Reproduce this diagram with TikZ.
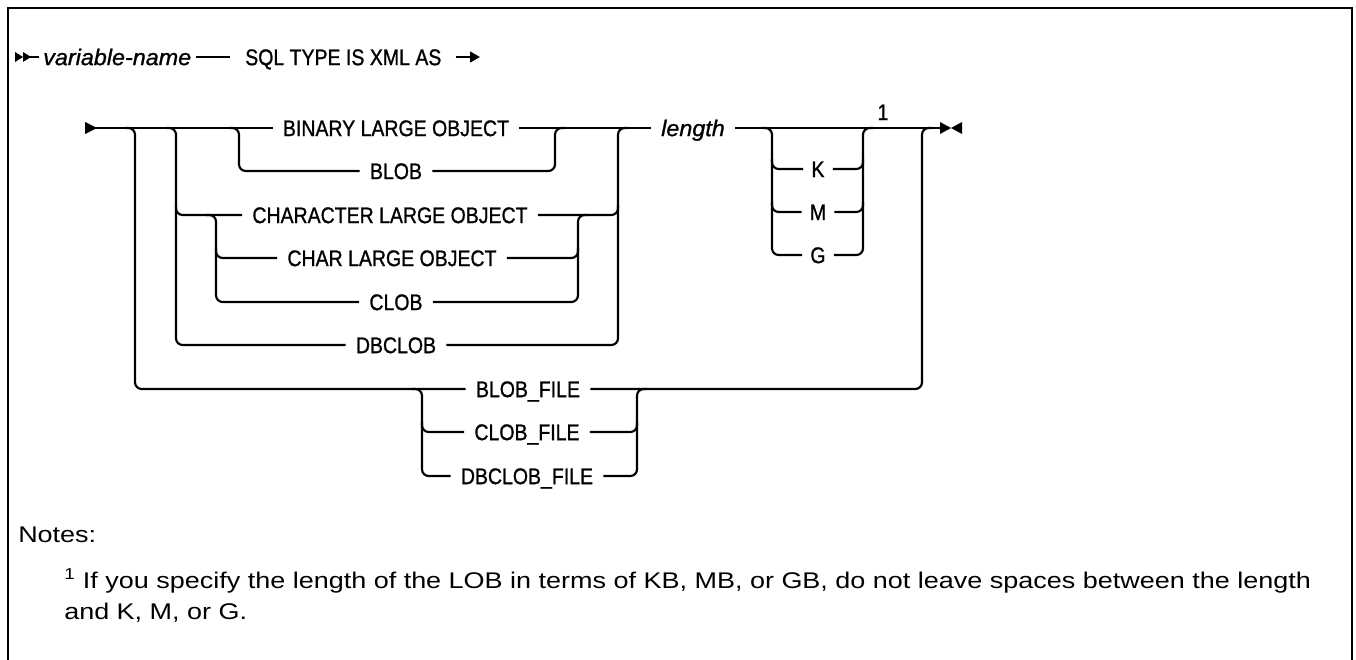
\documentclass[tikz,border=0pt]{standalone}
\usepackage{fontspec}
\setmainfont{Liberation Sans}
\newfontfamily\diagfont[FakeBold=1.0,FakeStretch=0.86]{Liberation Sans}
\newfontfamily\diagital[FakeBold=1.0,FakeStretch=1.03]{Liberation Sans Italic}
\newfontfamily\notefont[FakeStretch=1.19]{Liberation Sans}
\usetikzlibrary{calc,arrows.meta}
\begin{document}
\begin{tikzpicture}[x=0.75pt,y=-0.75pt]
\tikzset{
  rail/.style={line width=1.6pt, rounded corners=5pt},
  plain/.style={line width=1.6pt},
  kw/.style={font=\diagfont\fontsize{17}{20}\selectfont, inner sep=0pt, text height=12.2pt, text depth=0pt},
  vw/.style={font=\diagital\fontsize{17}{20}\selectfont, inner sep=0pt, text height=12.2pt, text depth=0pt},
  note/.style={font=\notefont\fontsize{17}{20}\selectfont, inner sep=0pt, anchor=base west},
}
\useasboundingbox (0,0) rectangle (1356,660);
% frame
\draw[plain] (8,660) -- (8,8) -- (1352,8) -- (1352,660);

% ---------- first line ----------
\fill (15,52) -- (23,57) -- (15,62) -- cycle;
\fill (23,52) -- (31,57) -- (23,62) -- cycle;
\coordinate (s0) at (27,57);
\node[vw, anchor=west] (var) at (43,57) {variable-name};
\node[kw, anchor=west] (sql) at (245,57) {SQL TYPE IS XML AS};
\coordinate (s1) at (480,57);
\draw[plain] (s0) -- ($(var.west)+(-4,0)$);
\draw[plain] ($(var.east)+(5,0)$) -- ($(sql.west)+(-15,0)$);
\draw[plain, -{Triangle[length=7.5pt,width=8pt]}] ($(sql.east)+(14,0)$) -- (s1);

% ---------- nodes ----------
\node[kw] (binary) at (396,128) {BINARY LARGE OBJECT};
\node[kw] (blob) at (396,171) {BLOB};
\node[kw] (character) at (390,215) {CHARACTER LARGE OBJECT};
\node[kw] (charlob) at (392,258) {CHAR LARGE OBJECT};
\node[kw] (clob) at (396,302) {CLOB};
\node[kw] (dbclob) at (396,345) {DBCLOB};
\node[vw] (length) at (693,128) {length};
\node[kw] (k) at (818,169) {K};
\node[kw] (m) at (818,212) {M};
\node[kw] (g) at (818,255) {G};
\node[kw] (one) at (883,112) {1};
\node[kw] (blobfile) at (528,389) {BLOB\_FILE};
\node[kw] (clobfile) at (527,432) {CLOB\_FILE};
\node[kw] (dbclobfile) at (527,476) {DBCLOB\_FILE};

% ---------- main line ----------
\fill (85,122) -- (97,128) -- (85,134) -- cycle;
\coordinate (m0) at (95,128);
\coordinate (e0) at (941,128);
\draw[plain] (m0) -- ($(binary.west)+(-10,0)$);
\draw[plain] ($(binary.east)+(10,0)$) -- ($(length.west)+(-10,0)$);
\draw[plain] ($(length.east)+(10,0)$) -- (e0);
\fill (940,122) -- (951,128) -- (940,134) -- cycle;
\fill (962,122) -- (951,128) -- (962,134) -- cycle;

% ---------- BLOB branch ----------
\draw[rail] (229,128) -- (239,128) -- (239,171) -- ($(blob.west)+(-10,0)$);
\draw[rail] ($(blob.east)+(10,0)$) -- (555,171) -- (555,128) -- (565,128);

% ---------- CHARACTER / DBCLOB branch ----------
\draw[rail] (166,128) -- (176,128) -- (176,345) -- ($(dbclob.west)+(-10,0)$);
\draw[rail] (176,205) -- (176,215) -- ($(character.west)+(-10,0)$);
\draw[rail] ($(dbclob.east)+(10,0)$) -- (618,345) -- (618,128) -- (628,128);
\draw[rail] ($(character.east)+(10,0)$) -- (618,215) -- (618,205);

% ---------- CHAR / CLOB branch ----------
\draw[rail] (206,215) -- (216,215) -- (216,302) -- ($(clob.west)+(-10,0)$);
\draw[rail] (216,248) -- (216,258) -- ($(charlob.west)+(-10,0)$);
\draw[rail] ($(clob.east)+(10,0)$) -- (578,302) -- (578,215) -- (588,215);
\draw[rail] ($(charlob.east)+(10,0)$) -- (578,258) -- (578,248);

% ---------- K M G ----------
\draw[rail] (762,128) -- (772,128) -- (772,255) -- ($(g.west)+(-8,0)$);
\draw[rail] (772,159) -- (772,169) -- ($(k.west)+(-8,0)$);
\draw[rail] (772,202) -- (772,212) -- ($(m.west)+(-8,0)$);
\draw[rail] ($(g.east)+(8,0)$) -- (863,255) -- (863,128) -- (873,128);
\draw[rail] ($(k.east)+(8,0)$) -- (863,169) -- (863,159);
\draw[rail] ($(m.east)+(8,0)$) -- (863,212) -- (863,202);

% ---------- FILE branch ----------
\draw[rail] (125,128) -- (135,128) -- (135,389) -- ($(blobfile.west)+(-10,0)$);
\draw[rail] ($(blobfile.east)+(10,0)$) -- (922,389) -- (922,128) -- (932,128);
\draw[rail] (412,389) -- (422,389) -- (422,476) -- ($(dbclobfile.west)+(-10,0)$);
\draw[rail] (422,422) -- (422,432) -- ($(clobfile.west)+(-10,0)$);
\draw[rail] ($(dbclobfile.east)+(10,0)$) -- (637,476) -- (637,389) -- (647,389);
\draw[rail] ($(clobfile.east)+(10,0)$) -- (637,432) -- (637,422);

% ---------- notes ----------
\node[note] (notes) at (18,542) {Notes:};
\node[note] (fn1) at (64,588) {\textsuperscript{1} If you specify the length of the LOB in terms of KB, MB, or GB, do not leave spaces between the length};
\node[note] (fn2) at (64,619) {and K, M, or G.};
\end{tikzpicture}
\end{document}
